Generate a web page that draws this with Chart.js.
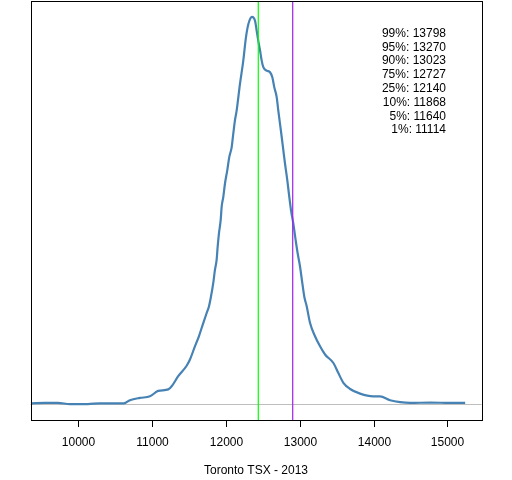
<!DOCTYPE html>
<html>
<head>
<meta charset="utf-8">
<script src="https://cdn.jsdelivr.net/npm/chart.js@4"></script>
<style>
html,body{margin:0;padding:0;background:#fff;}
canvas{display:block;}
</style>
</head>
<body>
<canvas id="c" width="512" height="480"></canvas>
<script>
// Density of Toronto TSX 2013 (x = index level, y = relative density, peak = 1)
const densityX = [9369,9549,9725,9888,10131,10294,10619,10701,10836,10972,11084,11220,11266,11355,11469,11514,11581,11635,11694,11740,11771,11798,11829,11852,11875,11889,11906,11930,11943,11965,11988,12019,12046,12079,12100,12123,12146,12191,12236,12272,12304,12354,12395,12417,12439,12463,12485,12507,12553,12598,12629,12656,12688,12710,12733,12756,12778,12801,12832,12859,12882,12913,12945,12972,13004,13035,13062,13095,13140,13207,13275,13343,13456,13523,13591,13682,13817,13993,14088,14224,14359,14495,14766,15037,15240];
const densityY = [0.003,0.004,0.004,0.001,0.001,0.003,0.003,0.011,0.017,0.021,0.035,0.039,0.047,0.073,0.100,0.116,0.150,0.176,0.210,0.236,0.253,0.278,0.313,0.347,0.373,0.407,0.441,0.476,0.510,0.535,0.570,0.604,0.638,0.664,0.698,0.733,0.758,0.827,0.887,0.947,0.981,1.000,0.990,0.964,0.938,0.913,0.887,0.870,0.861,0.857,0.844,0.818,0.793,0.758,0.724,0.690,0.656,0.621,0.578,0.535,0.501,0.467,0.424,0.390,0.356,0.313,0.278,0.253,0.210,0.176,0.150,0.129,0.107,0.081,0.056,0.040,0.028,0.021,0.021,0.011,0.006,0.004,0.005,0.004,0.004];
const greenLine = 12439;
const purpleLine = 12905;
const quantileLabels = ["99%","95%","90%","75%","25%","10%","5%","1%"];
const quantileValues = [13798,13270,13023,12727,12140,11868,11640,11114];
const xTicks = [10000,11000,12000,13000,14000,15000];
const xTitle = "Toronto TSX - 2013";

const FONT = '12px "Liberation Sans", Arial, sans-serif';

const rPlot = {
  id: 'rPlot',
  beforeDatasetsDraw(chart) {
    const ctx = chart.ctx, a = chart.chartArea, y = chart.scales.y;
    ctx.save();
    ctx.strokeStyle = '#BEBEBE';
    ctx.lineWidth = 1;
    const y0 = Math.round(y.getPixelForValue(0)) + 0.5;
    ctx.beginPath(); ctx.moveTo(a.left, y0); ctx.lineTo(a.right, y0); ctx.stroke();
    ctx.restore();
  },
  afterDraw(chart) {
    const ctx = chart.ctx, a = chart.chartArea, x = chart.scales.x;
    ctx.save();
    ctx.strokeStyle = '#000'; ctx.lineWidth = 1;
    ctx.strokeRect(Math.round(a.left)+0.5, Math.round(a.top)+0.5, Math.round(a.right-a.left), Math.round(a.bottom-a.top));
    ctx.font = FONT; ctx.fillStyle = '#000';
    ctx.textAlign = 'center'; ctx.textBaseline = 'middle';
    xTicks.forEach(t => {
      const px = Math.round(x.getPixelForValue(t)) + 0.5;
      ctx.beginPath(); ctx.moveTo(px, a.bottom); ctx.lineTo(px, a.bottom + 7); ctx.stroke();
      ctx.fillText(String(t), px, 443);
    });
    ctx.fillText(xTitle, (a.left + a.right) / 2, 471);
    ctx.textAlign = 'right';
    quantileLabels.forEach((l, i) => {
      ctx.fillText(l + ': ' + quantileValues[i], 446, 33.5 + i * 13.8);
    });
    ctx.restore();
  }
};

new Chart(document.getElementById('c'), {
  type: 'line',
  data: {
    datasets: [
      {
        data: densityX.map((v, i) => ({x: v, y: densityY[i]})),
        borderColor: '#4682B4', borderWidth: 2.2, pointRadius: 0,
        cubicInterpolationMode: 'monotone', fill: false, order: 2
      },
      {
        data: [{x: greenLine, y: -0.04}, {x: greenLine, y: 1.04}],
        borderColor: '#00FF00', borderWidth: 1.2, pointRadius: 0, tension: 0, order: 1
      },
      {
        data: [{x: purpleLine, y: -0.04}, {x: purpleLine, y: 1.04}],
        borderColor: '#A020F0', borderWidth: 1.2, pointRadius: 0, tension: 0, order: 1
      }
    ]
  },
  options: {
    responsive: false,
    animation: false,
    devicePixelRatio: 1,
    layout: {padding: {left: 30.5, right: 30.5, top: 1.3, bottom: 60}},
    plugins: {legend: {display: false}, tooltip: {enabled: false}},
    scales: {
      x: {type: 'linear', min: 9355, max: 15461, display: false},
      y: {type: 'linear', min: -0.04, max: 1.04, display: false}
    }
  },
  plugins: [rPlot]
});
</script>
</body>
</html>
